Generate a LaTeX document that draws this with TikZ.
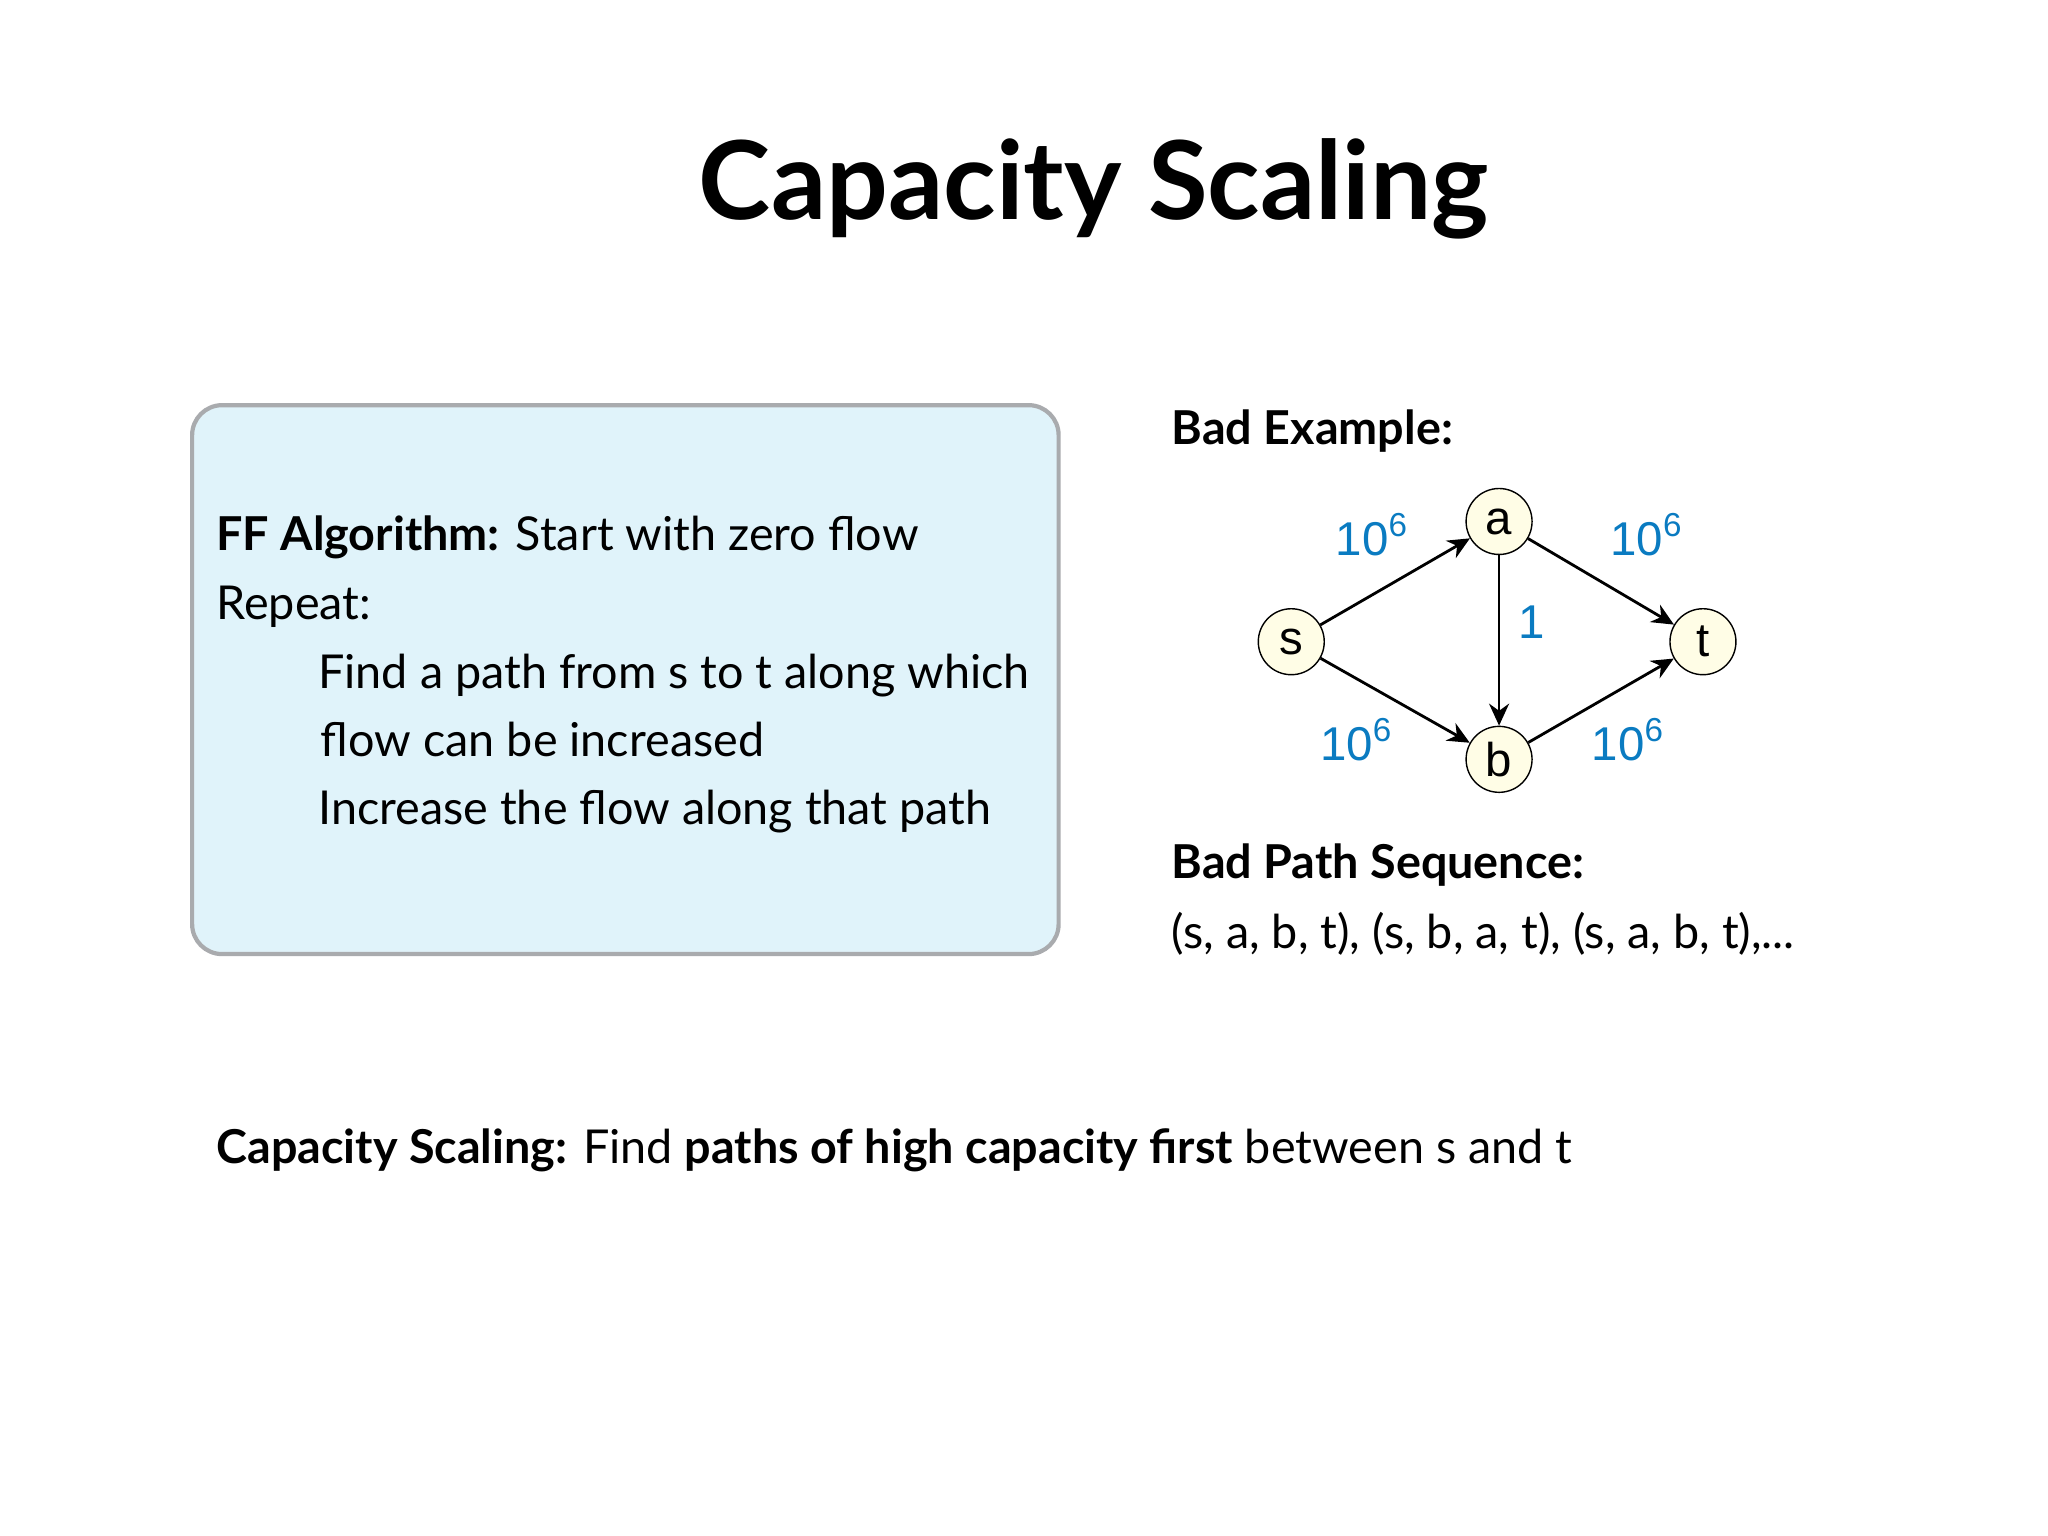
\documentclass[tikz,border=0pt]{standalone}
\usepackage{fontspec}
\setmainfont{Lato}
\newfontfamily\arialf{Liberation Sans}
\newfontfamily\blackf{Lato Black}
\usetikzlibrary{arrows.meta}
\definecolor{boxfill}{HTML}{E0F3FA}
\definecolor{boxline}{HTML}{A9ABAE}
\definecolor{nodefill}{HTML}{FFFDE6}
\definecolor{capblue}{HTML}{0A7BC1}
\tikzset{
  vert/.style={circle,draw,fill=nodefill,minimum size=0.66cm,inner sep=0pt,font=\arialf\fontsize{13.5}{14}\selectfont},
  edge/.style={-{Stealth[length=2.2mm,width=2mm]},thick},
  caplabel/.style={text=capblue,font=\arialf\fontsize{13.5}{14}\selectfont},
  body/.style={anchor=base west,inner sep=0pt,font=\fontsize{13.3}{16}\selectfont},
}
\begin{document}
\begin{tikzpicture}[x=0.01307cm,y=-0.01307cm]
\useasboundingbox (0,0) rectangle (1567,1175);
\node[anchor=base,inner sep=0pt,font=\fontsize{31}{34}\selectfont\bfseries] (title) at (837,168) {Capacity Scaling};
\draw[boxline,fill=boxfill,line width=1.2pt,rounded corners=0.3cm] (147,310) rectangle (810,730);
\node[body] (l1) at (165,421) {\textbf{FF Algorithm:} Start with zero flow};
\node[body] (l2) at (165,474) {Repeat:};
\node[body] (l3) at (243,527) {Find a path from s to t along which};
\node[body] (l4) at (245,579) {flow can be increased};
\node[body] (l5) at (243,631) {Increase the flow along that path};
\node[body] (be) at (896,340) {\textbf{Bad Example:}};
\node[vert] (s) at (988,491) {s};
\node[vert] (a) at (1147,399) {a};
\node[vert] (b) at (1147,581) {b};
\node[vert] (t) at (1303,491) {t};
\draw[edge] (s) -- (a);
\draw[edge] (s) -- (b);
\draw[edge] (a) -- (t);
\draw[edge] (b) -- (t);
\draw[edge] (a) -- (b);
\node[caplabel] (c1) at (1050,409) {10\textsuperscript{6}};
\node[caplabel] (c2) at (1260,409) {10\textsuperscript{6}};
\node[caplabel] (c3) at (1038,566) {10\textsuperscript{6}};
\node[caplabel] (c4) at (1246,566) {10\textsuperscript{6}};
\node[caplabel] (c5) at (1172,476) {1};
\node[body] (bp) at (896,672) {\textbf{Bad Path Sequence:}};
\node[body] (seq) at (896,726) {(s, a, b, t), (s, b, a, t), (s, a, b, t),...};
\node[body] (cs) at (165,890) {\textbf{Capacity Scaling:} Find \textbf{paths of high capacity first} between s and t};
\end{tikzpicture}
\end{document}
